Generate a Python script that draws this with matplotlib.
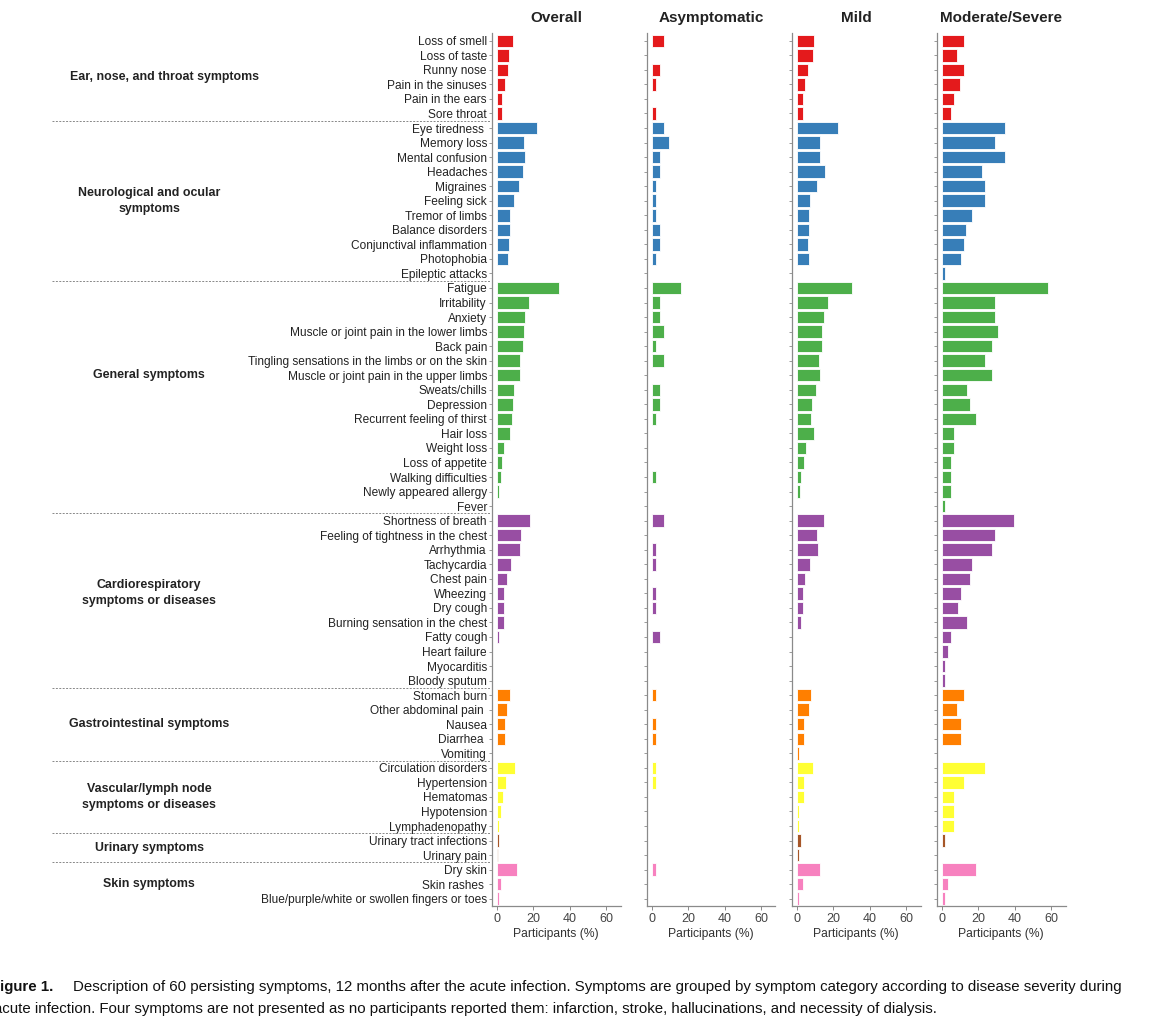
import matplotlib
matplotlib.use('Agg')
import matplotlib.pyplot as plt
import numpy as np

plt.rcParams['font.family'] = ['Liberation Sans', 'DejaVu Sans']

# ---- data (percent of participants) ----
groups = ['Ear, nose, and throat symptoms', 'Neurological and ocular\nsymptoms',
          'General symptoms', 'Cardiorespiratory\nsymptoms or diseases',
          'Gastrointestinal symptoms', 'Vascular/lymph node\nsymptoms or diseases',
          'Urinary symptoms', 'Skin symptoms']
group_sizes = [6, 11, 16, 12, 5, 5, 2, 3]
group_colors = ['#E41A1C', '#377EB8', '#4DAF4A', '#984EA3',
                '#FF7F00', '#FFFF33', '#A65628', '#F781BF']

symptoms = [
    'Loss of smell', 'Loss of taste', 'Runny nose', 'Pain in the sinuses', 'Pain in the ears', 'Sore throat',
    'Eye tiredness ', 'Memory loss', 'Mental confusion', 'Headaches', 'Migraines', 'Feeling sick',
    'Tremor of limbs', 'Balance disorders', 'Conjunctival inflammation', 'Photophobia', 'Epileptic attacks',
    'Fatigue', 'Irritability', 'Anxiety', 'Muscle or joint pain in the lower limbs', 'Back pain',
    'Tingling sensations in the limbs or on the skin', 'Muscle or joint pain in the upper limbs',
    'Sweats/chills', 'Depression', 'Recurrent feeling of thirst', 'Hair loss', 'Weight loss',
    'Loss of appetite', 'Walking difficulties', 'Newly appeared allergy', 'Fever',
    'Shortness of breath', 'Feeling of tightness in the chest', 'Arrhythmia', 'Tachycardia',
    'Chest pain', 'Wheezing', 'Dry cough', 'Burning sensation in the chest', 'Fatty cough',
    'Heart failure', 'Myocarditis', 'Bloody sputum',
    'Stomach burn', 'Other abdominal pain ', 'Nausea', 'Diarrhea ', 'Vomiting',
    'Circulation disorders', 'Hypertension', 'Hematomas', 'Hypotension', 'Lymphadenopathy',
    'Urinary tract infections', 'Urinary pain',
    'Dry skin', 'Skin rashes ', 'Blue/purple/white or swollen fingers or toes']

overall = [8.8, 6.9, 6.3, 4.6, 3.1, 2.9,
           22.2, 15.1, 15.3, 14.6, 12.1, 9.6, 7.5, 7.1, 6.7, 6.3, 0.2,
           34.1, 17.6, 15.5, 15.1, 14.2, 12.6, 12.8, 9.6, 8.8, 8.6, 7.3, 4.2, 2.9, 2.3, 1.5, 0.2,
           18.2, 13.2, 12.8, 7.7, 5.6, 4.2, 3.8, 3.8, 1.5, 0.4, 0, 0,
           7.1, 5.6, 4.4, 4.4, 0.3,
           10.0, 5.0, 3.3, 2.1, 1.0,
           1.3, 0.6,
           11.3, 2.3, 1.0]
asymptomatic = [7.0, 0, 4.7, 2.3, 0, 2.3,
                7.0, 9.3, 4.7, 4.7, 2.3, 2.3, 2.3, 4.7, 4.7, 2.3, 0,
                16.3, 4.7, 4.7, 7.0, 2.3, 7.0, 0, 4.7, 4.7, 2.3, 0, 0, 0, 2.3, 0, 0,
                7.0, 0, 2.3, 2.3, 0, 2.3, 2.3, 0, 4.7, 0, 0, 0,
                2.3, 0, 2.3, 2.3, 0,
                2.3, 2.3, 0, 0, 0,
                0, 0,
                2.3, 0, 0]
mild = [9.6, 9.2, 6.1, 4.4, 3.3, 3.3,
        22.8, 12.8, 12.6, 15.7, 11.1, 7.3, 6.7, 6.7, 6.1, 6.7, 0,
        30.5, 17.4, 14.9, 13.8, 13.8, 12.1, 13.0, 10.5, 8.6, 7.7, 9.6, 5.2, 4.0, 2.3, 1.7, 0,
        14.9, 11.1, 11.5, 7.5, 4.4, 3.3, 3.3, 2.1, 0, 0, 0, 0,
        7.7, 6.7, 4.2, 4.2, 1.0,
        9.0, 3.8, 4.2, 1.5, 1.3,
        2.3, 1.3,
        12.8, 3.3, 1.5]
moderate_severe = [12.1, 8.6, 12.1, 10.3, 6.9, 5.2,
                   34.5, 29.1, 34.5, 22.0, 23.8, 23.8, 16.9, 13.6, 12.1, 10.5, 1.7,
                   58.4, 29.1, 29.1, 31.0, 27.4, 23.8, 27.4, 13.8, 15.7, 18.8, 6.9, 6.9, 5.2, 5.2, 5.2, 1.7,
                   39.7, 29.1, 27.4, 16.9, 15.5, 10.5, 8.8, 13.8, 5.2, 3.6, 1.7, 1.7,
                   12.1, 8.6, 10.5, 10.5, 0,
                   24.0, 12.3, 6.7, 6.7, 6.7,
                   1.9, 0,
                   18.8, 3.6, 1.7]

panels = ['Overall', 'Asymptomatic', 'Mild', 'Moderate/Severe']
series = [overall, asymptomatic, mild, moderate_severe]

# ---- layout (pixel based) ----
W, H = 1150, 1024
fig = plt.figure(figsize=(W / 100, H / 100), dpi=100)
fig.patch.set_facecolor('white')

def fx(px): return px / W
def fy(py): return 1 - py / H

colors = []
for c, n in zip(group_colors, group_sizes):
    colors += [c] * n
y = np.arange(len(symptoms))
ax_top, ax_bot = 33.5, 906
ax_lefts = [491.8, 646.8, 791.8, 936.8]
ax_w = 128.7
grey = '#8a8a8a'
txt = '#222222'

for i, (name, vals) in enumerate(zip(panels, series)):
    ax = fig.add_axes([fx(ax_lefts[i]), fy(ax_bot), fx(ax_w), (ax_bot - ax_top) / H])
    ax.barh(y, vals, height=0.86, color=colors, edgecolor='white', linewidth=0.6)
    ax.set_ylim(len(symptoms) - 0.5, -0.5)
    ax.set_xlim(-2.7, 68)
    ax.set_xticks([0, 20, 40, 60])
    ax.set_yticks(y)
    if i == 0:
        ax.set_yticklabels(symptoms, fontsize=8.6, color=txt)
    else:
        ax.set_yticklabels([])
    for s in ['top', 'right']:
        ax.spines[s].set_visible(False)
    for s in ['left', 'bottom']:
        ax.spines[s].set_color(grey)
        ax.spines[s].set_linewidth(0.9)
    ax.tick_params(axis='y', length=2.5, width=0.6, color=grey, pad=1)
    ax.tick_params(axis='x', length=3, width=0.7, color=grey, labelsize=9, labelcolor='#444444', pad=2)
    ax.set_xlabel('Participants (%)', fontsize=8.7, color='#333333', labelpad=2)
    ax.set_title(name, fontsize=11, fontweight='bold', color=txt, pad=8)

# group labels and dashed separators
row_px = (ax_bot - ax_top) / len(symptoms)
def row_y(r): return ax_top + (r + 0.5) * row_px

label_rows = [2.5, 11.0, 23.0, 38.0, 47.0, 52.0, 55.5, 58.0]
label_x = [164, 149, 149, 149, 149, 149, 149, 149]
start = 0
for g, n, lr, lx in zip(groups, group_sizes, label_rows, label_x):
    fig.text(fx(lx), fy(row_y(lr)), g, ha='center', va='center', fontsize=8.9,
             fontweight='bold', color=txt, linespacing=1.45)
    start += n
    if start < len(symptoms):
        yy = fy(ax_top + start * row_px)
        fig.add_artist(plt.Line2D([fx(52), fx(490)], [yy, yy], color='#888888',
                                  linewidth=0.7, linestyle=(0, (2, 1.5))))

# caption
cap_fs = 10.8
fig.text(fx(-9), fy(987), 'Figure 1.', fontsize=cap_fs, fontweight='bold',
         va='center', ha='left', color='#111111')
fig.text(fx(73), fy(987), 'Description of 60 persisting symptoms, 12 months after the acute infection. '
         'Symptoms are grouped by symptom category according to disease severity during',
         fontsize=cap_fs, va='center', ha='left', color='#111111')
fig.text(fx(-6), fy(1009), 'acute infection. Four symptoms are not presented as no participants reported them: '
         'infarction, stroke, hallucinations, and necessity of dialysis.',
         fontsize=cap_fs, va='center', ha='left', color='#111111')

fig.savefig('out.png', dpi=100)
